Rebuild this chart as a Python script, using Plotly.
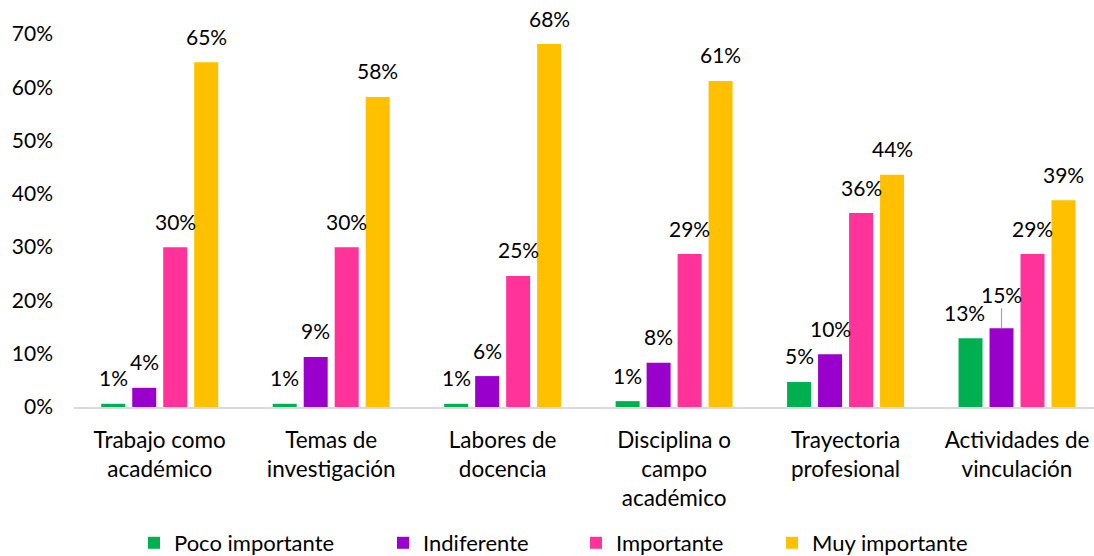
import plotly.graph_objects as go

categories = ["Trabajo como<br>académico", "Temas de<br>investigación", "Labores de<br>docencia",
              "Disciplina o<br>campo<br>académico", "Trayectoria<br>profesional", "Actividades de<br>vinculación"]
series_names = ["Poco importante", "Indiferente", "Importante", "Muy importante"]
poco = [0.006, 0.006, 0.006, 0.011, 0.047, 0.129]
indiferente = [0.036, 0.094, 0.058, 0.083, 0.099, 0.148]
importante = [0.300, 0.300, 0.246, 0.287, 0.364, 0.287]
muy = [0.647, 0.582, 0.681, 0.612, 0.436, 0.388]
y_ticks = [0, 0.1, 0.2, 0.3, 0.4, 0.5, 0.6, 0.7]

colors = ["#00B050", "#9900CC", "#FF3399", "#FFC000"]
FONT = "Lato"
FS = 21
FS_CAT = 22.5
FS_LEG = 22
series = [poco, indiferente, importante, muy]

fig = go.Figure()
legend_ids = ["legend", "legend2", "legend3", "legend4"]
for name, vals, col, lg in zip(series_names, series, colors, legend_ids):
    fig.add_trace(go.Bar(x=categories, y=vals, name=name, marker_color=col,
                         marker_line_width=0, legend=lg, showlegend=True))

slot_px = 31
for i, vals in enumerate(series):
    for j, v in enumerate(vals):
        xs = (i - 1.5) * slot_px
        txt = f"{round(v * 100)}%"
        if j == 5 and i == 1:
            fig.add_annotation(x=categories[j], y=v, text=txt, xshift=xs, showarrow=True,
                               ax=0, ay=-34, arrowhead=0, arrowwidth=1.2, arrowcolor="#A6A6A6",
                               standoff=0, font=dict(family=FONT, size=FS, color="#000"))
        else:
            extra = -6 if (j == 5 and i == 0) else 0
            fig.add_annotation(x=categories[j], y=v, text=txt, xshift=xs + extra, yshift=26,
                               showarrow=False, yanchor="middle",
                               font=dict(family=FONT, size=FS, color="#000"))

legend_x = [0.1225, 0.3501, 0.5265, 0.7057]
leg_common = dict(orientation="h", yanchor="middle", xanchor="left", y=0.0234,
                  xref="container", yref="container",
                  font=dict(family=FONT, size=FS_LEG, color="#000"), bgcolor="rgba(0,0,0,0)")
fig.update_layout(
    showlegend=True,
    legend=dict(x=legend_x[0], **leg_common),
    legend2=dict(x=legend_x[1], **leg_common),
    legend3=dict(x=legend_x[2], **leg_common),
    legend4=dict(x=legend_x[3], **leg_common),
)

fig.update_layout(
    width=1094, height=556,
    margin=dict(l=74, r=0, t=34, b=149, autoexpand=False),
    paper_bgcolor="white", plot_bgcolor="white",
    barmode="group", bargap=0.277, bargroupgap=0.226,
    font=dict(family=FONT, size=FS, color="#000"),
    xaxis=dict(range=[-0.5, 5.449], showline=True, linecolor="#D9D9D9", linewidth=1.5,
               automargin=False,
               ticks="", ticklabelstandoff=12, tickfont=dict(family=FONT, size=FS_CAT, color="#000")),
    yaxis=dict(range=[0, 0.7], tickvals=y_ticks, tickformat=".0%", showgrid=False,
               automargin=False,
               zeroline=False, showline=False, ticks="", ticklabelstandoff=20,
               tickfont=dict(family=FONT, size=FS, color="#000")),
)

fig.write_html("out.html", config={"displayModeBar": False},
               post_script="document.body.style.margin='0';document.body.style.overflow='hidden';")
